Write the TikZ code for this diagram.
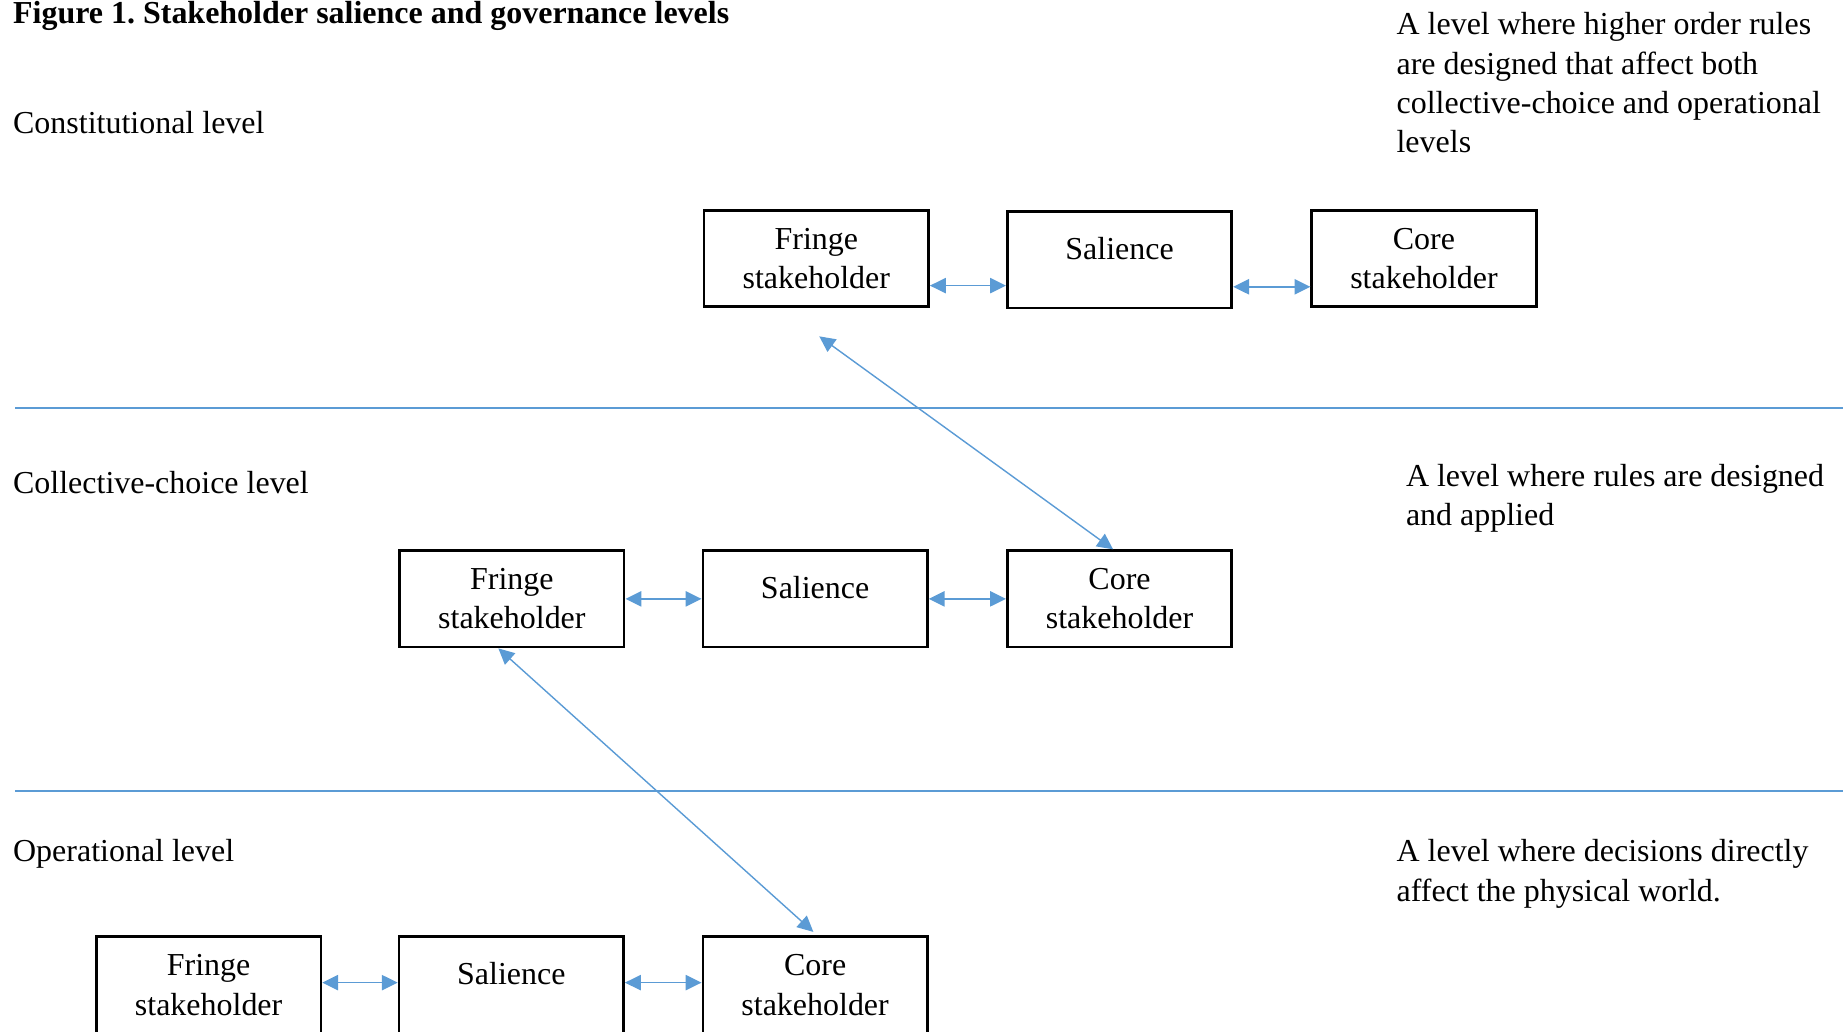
\documentclass[tikz,border=0pt]{standalone}
\usepackage{fontspec}
\setmainfont{Liberation Serif}
\usetikzlibrary{arrows.meta}
\definecolor{lineblue}{RGB}{91,155,213}
\begin{document}
\frenchspacing
\begin{tikzpicture}[x=1pt,y=-1pt,
  every node/.style={font=\fontsize{27.2}{33.5}\selectfont},
  sbox/.style={draw, line width=2.3pt, minimum width=191pt, minimum height=82pt, inner sep=0pt, align=center},
  conn/.style={draw=lineblue, line width=1.2pt, {Triangle[length=13.5pt,width=13pt]}-{Triangle[length=13.5pt,width=13pt]}},
  divider/.style={draw=lineblue, line width=1.2pt},
  lbl/.style={anchor=base west, inner sep=0pt},
  txt/.style={anchor=north west, inner sep=0pt, align=left}]
\useasboundingbox (0,0) rectangle (1568,878);

% title
\node[lbl, font=\bfseries\fontsize{27.2}{33.5}\selectfont] (title) at (11,20) {Figure 1. Stakeholder salience and governance levels};

% level labels
\node[lbl] (lcon) at (11,114) {Constitutional level};
\node[lbl] (lcol) at (11,420) {Collective-choice level};
\node[lbl] (lop) at (11,733) {Operational level};

% descriptions
\node[txt] (dcon) at (1188,6) {\strut A level where higher order rules\\are designed that affect both\\collective-choice and operational\\levels};
\node[txt] (dcol) at (1196,390) {\strut A level where rules are designed\\and applied};
\node[txt] (dop) at (1188,709.5) {\strut A level where decisions directly\\affect the physical world.};

% dividers
\coordinate (d1a) at (13,347);
\coordinate (d1b) at (1568,347);
\coordinate (d2a) at (13,673);
\coordinate (d2b) at (1568,673);
\draw[divider] (d1a) -- (d1b);
\draw[divider] (d2a) -- (d2b);

% top row
\node[sbox] (F1) at (694.5,220) {Fringe\\stakeholder};
\node[sbox] (S1) at (952.5,221) {\smash{Salience}};
\node[sbox] (C1) at (1211.5,220) {Core\\stakeholder};

% middle row
\node[sbox] (F2) at (435.5,509.5) {Fringe\\stakeholder};
\node[sbox] (S2) at (693.5,509.5) {\smash{Salience}};
\node[sbox] (C2) at (952.5,509.5) {Core\\stakeholder};

% bottom row
\node[sbox] (F3) at (177.5,838) {Fringe\\stakeholder};
\node[sbox] (S3) at (435,838) {\smash{Salience}};
\node[sbox] (C3) at (693.5,838) {Core\\stakeholder};

% horizontal connectors
\draw[conn] ([yshift=-23pt]F1.east) -- ([yshift=-23pt]F1.east -| S1.west);
\draw[conn] ([yshift=-23pt]S1.east) -- ([yshift=-23pt]S1.east -| C1.west);
\draw[conn] (F2.east) -- (F2.east -| S2.west);
\draw[conn] (S2.east) -- (S2.east -| C2.west);
\draw[conn] ([yshift=2pt]F3.east) -- ([yshift=2pt]F3.east -| S3.west);
\draw[conn] ([yshift=2pt]S3.east) -- ([yshift=2pt]S3.east -| C3.west);

% diagonal connectors
\coordinate (e1) at ([xshift=2.5pt,yshift=-24pt]F1.south);
\draw[conn] (e1) -- ([xshift=-5.5pt]C2.north);
\draw[conn] ([xshift=-11.5pt]F2.south) -- ([xshift=-1.5pt,yshift=3pt]C3.north);
\end{tikzpicture}
\end{document}
